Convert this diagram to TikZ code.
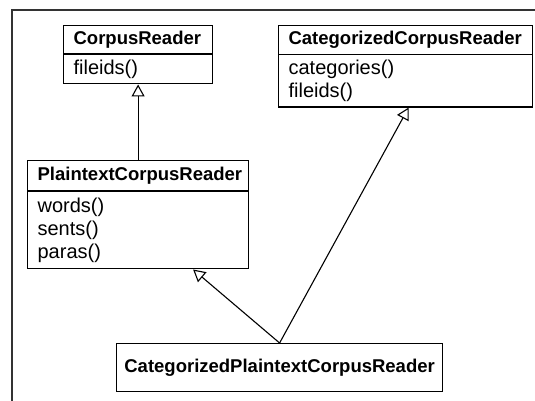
\documentclass[tikz,border=0pt]{standalone}
\usepackage{fontspec}
\setmainfont{Liberation Sans}
\usetikzlibrary{shapes.multipart,arrows.meta}
\begin{document}
\begin{tikzpicture}[x=1pt,y=-1pt,
	klasse/.style={draw,line width=1.2pt,rectangle split,rectangle split parts=2,
		anchor=north west,align=left,inner xsep=10pt,inner ysep=5pt,font=\meth},
	erbt/.style={-{Triangle[open,length=12pt,width=13pt]},line width=1.1pt}]
	\def\kopf{\fontsize{18.5}{22}\selectfont\bfseries}
	\def\meth{\fontsize{20}{23}\selectfont}
	\useasboundingbox (0,0) rectangle (535,401);
	\draw[line width=2pt,black!80] (12,401) -- (12,10) -- (535,10);
	\node[klasse,text width=129pt] (corpus) at (63,25)
		{\kopf CorpusReader\nodepart{second}fileids()};
	\node[klasse,text width=234pt] (catcorpus) at (278,25)
		{\kopf CategorizedCorpusReader\nodepart{second}categories()\\fileids()};
	\node[klasse,text width=201pt,inner ysep=6pt] (plain) at (27,160)
		{\kopf PlaintextCorpusReader\nodepart{second}words()\\sents()\\paras()};
	\node[draw,line width=1.2pt,anchor=north west,minimum width=326pt,minimum height=48pt,
		inner sep=0pt,font=\kopf] (catplain) at (116,343) {CategorizedPlaintextCorpusReader};
	\draw[erbt] (plain.north) -- (corpus.south);
	\draw[erbt] (catplain.north) -- ([xshift=3pt]catcorpus.south);
	\draw[erbt] (catplain.north) -- ([xshift=55pt]plain.south);
\end{tikzpicture}
\end{document}
